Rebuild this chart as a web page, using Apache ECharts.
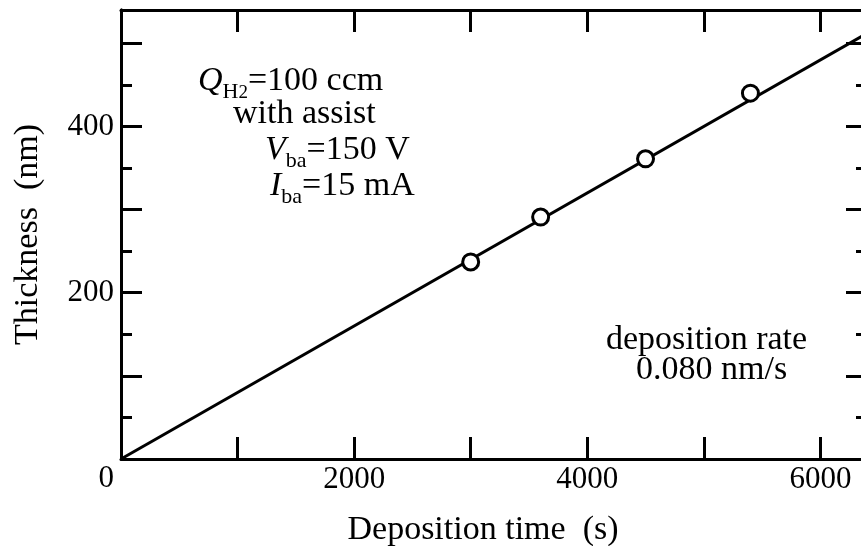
<!DOCTYPE html>
<html>
<head>
<meta charset="utf-8">
<script src="https://cdn.jsdelivr.net/npm/echarts@6/dist/echarts.min.js"></script>
<style>
  html, body { margin: 0; padding: 0; background: #fff; }
  #chart { width: 861px; height: 546px; }
</style>
</head>
<body>
<div id="chart"></div>
<script>
// Measured film thickness against deposition time
var depositionTime = [3000, 3600, 4500, 5400];      // s
var thickness = [237, 291, 361, 440];                // nm

// Fitted line through the origin, deposition rate 0.080 nm/s
var depositionRate = 0.080;
var fitTime = [0, 6400];
var fitThickness = [0, 512];

// Axis ranges and labelled ticks
var xRange = [0, 6400];
var yRange = [0, 540];
var xTickLabels = [2000, 4000, 6000];
var yTickLabels = [0, 200, 400];

var FONT = '"Liberation Serif", "Times New Roman", serif';
var INK = '#000';
var TICK_FS = 31;
var TEXT_FS = 34;

var chart = echarts.init(document.getElementById('chart'), null, { renderer: 'canvas' });

var gridBox = { left: 121, top: 10, width: 746, height: 449,
                containLabel: false, outerBoundsMode: 'none' };

function xAxisDef(gridIndex, position, withLabels, show) {
  return {
    type: 'value', gridIndex: gridIndex, position: position, show: show,
    min: xRange[0], max: xRange[1], interval: 1000,
    axisLine: { show: true, onZero: false, lineStyle: { color: INK, width: 3 } },
    axisTick: { show: true, inside: true, length: 22, lineStyle: { color: INK, width: 3 } },
    splitLine: { show: false },
    axisLabel: {
      show: withLabels, margin: 5, color: INK, fontFamily: FONT, fontSize: TICK_FS,
      formatter: function (v) { return xTickLabels.indexOf(v) >= 0 ? String(v) : ''; }
    },
    name: withLabels ? 'Deposition time  (s)' : '',
    nameLocation: 'middle', nameGap: 54,
    nameTextStyle: { color: INK, fontFamily: FONT, fontSize: TEXT_FS, padding: [0, 22, 0, 0] }
  };
}

function yAxisDef(gridIndex, position, step, len, withLabels) {
  return {
    type: 'value', gridIndex: gridIndex, position: position,
    min: yRange[0], max: yRange[1], interval: step,
    axisLine: { show: true, onZero: false, lineStyle: { color: INK, width: 3 } },
    axisTick: { show: true, inside: true, length: len, lineStyle: { color: INK, width: 3 } },
    splitLine: { show: false },
    axisLabel: {
      show: withLabels, margin: 7, color: INK, fontFamily: FONT, fontSize: TICK_FS, lineHeight: 40,
      formatter: function (v) {
        if (yTickLabels.indexOf(v) < 0) return '';
        return v === 0 ? '\n0' : String(v);
      }
    },
    name: withLabels ? 'Thickness  (nm)' : '',
    nameLocation: 'middle', nameGap: 76, nameRotate: 90,
    nameTextStyle: { color: INK, fontFamily: FONT, fontSize: TEXT_FS }
  };
}

var rich = {
  i: { fontFamily: FONT, fontSize: TEXT_FS, fontStyle: 'italic', lineHeight: 44, verticalAlign: 'middle' },
  r: { fontFamily: FONT, fontSize: TEXT_FS, lineHeight: 44, verticalAlign: 'middle' },
  sub: { fontFamily: FONT, fontSize: 22, lineHeight: 22, verticalAlign: 'bottom' },
  sub2: { fontFamily: FONT, fontSize: 19, lineHeight: 12, verticalAlign: 'bottom' }
};

// Text placed by its left edge and vertical centre
function note(x, y, text, useRich) {
  var style = { text: text, fontFamily: FONT, fontSize: TEXT_FS, fill: INK,
                align: 'left', verticalAlign: 'middle' };
  if (useRich) style.rich = rich;
  return { type: 'text', x: x, y: y, z: 10, style: style };
}

var option = {
  backgroundColor: '#fff',
  animation: false,
  grid: [gridBox, gridBox],
  xAxis: [
    xAxisDef(0, 'bottom', true, true),
    xAxisDef(0, 'top', false, true),
    xAxisDef(1, 'bottom', false, false)
  ],
  yAxis: [
    yAxisDef(0, 'left', 100, 21, true),
    yAxisDef(0, 'right', 100, 21, false),
    yAxisDef(1, 'left', 50, 11, false),
    yAxisDef(1, 'right', 50, 11, false)
  ],
  series: [
    {
      type: 'line', xAxisIndex: 0, yAxisIndex: 0,
      data: fitTime.map(function (t, k) { return [t, fitThickness[k]]; }),
      showSymbol: false, clip: true,
      lineStyle: { color: INK, width: 3 }, z: 2
    },
    {
      type: 'scatter', xAxisIndex: 0, yAxisIndex: 0,
      data: depositionTime.map(function (t, k) { return [t, thickness[k]]; }),
      symbol: 'circle', symbolSize: 16,
      itemStyle: { color: '#fff', borderColor: INK, borderWidth: 3, opacity: 1 },
      z: 3
    }
  ],
  graphic: [
    note(198, 81, '{i|Q}{sub|H}{sub2|2}{r|=100 ccm}', true),
    note(233, 114, 'with assist', false),
    note(265, 150, '{i|V}{sub|ba}{r|=150 V}', true),
    note(270, 186, '{i|I}{sub|ba}{r|=15 mA}', true),
    note(606, 340, 'deposition rate', false),
    note(636, 370, depositionRate.toFixed(3) + ' nm/s', false)
  ]
};

chart.setOption(option);
</script>
</body>
</html>
